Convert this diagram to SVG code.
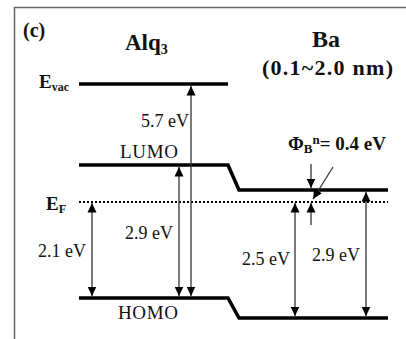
<svg xmlns="http://www.w3.org/2000/svg" width="406" height="339" viewBox="0 0 406 339">
<style>
text{font-family:"Liberation Serif","Times New Roman",serif;fill:#111}
.b{font-weight:bold}
.lvl{stroke:#000;stroke-width:3.5;fill:none}
.arr{stroke:#333;stroke-width:1.3;fill:none}
.frame{stroke:#666;stroke-width:1.5;fill:none}
</style>
<defs>
<marker id="ah" markerUnits="userSpaceOnUse" markerWidth="10" markerHeight="10" viewBox="0 0 10 10" refX="9.5" refY="5" orient="auto-start-reverse">
<path d="M0,0.5 L9.5,5 L0,9.5 z" fill="#000"/>
</marker>
</defs>
<path class="frame" d="M14.5,339 V7.5 H406"/>
<text class="b" x="23" y="37" font-size="20">(c)</text>
<text class="b" x="125" y="50" font-size="23">Alq<tspan font-size="14" dy="4">3</tspan></text>
<text class="b" x="312" y="47" font-size="24">Ba</text>
<text class="b" x="262" y="75" font-size="22" textLength="131">(0.1~2.0 nm)</text>
<g id="levels">
<g id="evac"><path class="lvl" d="M79,84 H228"/><text class="b" x="39" y="88" font-size="19">E<tspan font-size="12" dy="3">vac</tspan></text></g>
<g id="lumo"><path class="lvl" d="M79,165 H228 L239,190 H388"/><text x="120" y="158" font-size="19" textLength="58">LUMO</text></g>
<g id="ef"><path d="M79,202 H388" stroke="#000" stroke-width="2" stroke-dasharray="2,2"/><text class="b" x="46" y="210" font-size="19">E<tspan font-size="12" dy="3">F</tspan></text></g>
<g id="homo"><path class="lvl" d="M79,298 H228 L239,318 H388"/><text x="118" y="319" font-size="19" textLength="60">HOMO</text></g>
</g>
<g id="connectors">
<line class="arr" x1="191" y1="86" x2="191" y2="296" marker-start="url(#ah)" marker-end="url(#ah)"/>
<line class="arr" x1="179" y1="167" x2="179" y2="296" marker-start="url(#ah)" marker-end="url(#ah)"/>
<line class="arr" x1="92" y1="203" x2="92" y2="296" marker-start="url(#ah)" marker-end="url(#ah)"/>
<line class="arr" x1="295" y1="203" x2="295" y2="316" marker-start="url(#ah)" marker-end="url(#ah)"/>
<line class="arr" x1="366" y1="192" x2="366" y2="316" marker-start="url(#ah)" marker-end="url(#ah)"/>
<line class="arr" x1="311" y1="164" x2="311" y2="188" marker-end="url(#ah)"/>
<line class="arr" x1="311" y1="225" x2="311" y2="203" marker-end="url(#ah)"/>
<line class="arr" x1="333" y1="167" x2="313" y2="199" marker-end="url(#ah)"/>
</g>
<g id="labels">
<text x="141" y="127" font-size="18">5.7 eV</text>
<text x="125" y="239" font-size="18">2.9 eV</text>
<text x="38" y="257" font-size="18">2.1 eV</text>
<text x="242" y="265" font-size="18">2.5 eV</text>
<text x="312" y="261" font-size="18">2.9 eV</text>
<text class="b" x="288" y="150" font-size="19">Φ<tspan font-size="13" dy="3">B</tspan><tspan font-size="13" dy="-9">n</tspan><tspan dy="6">= 0.4 eV</tspan></text>
</g>
</svg>
